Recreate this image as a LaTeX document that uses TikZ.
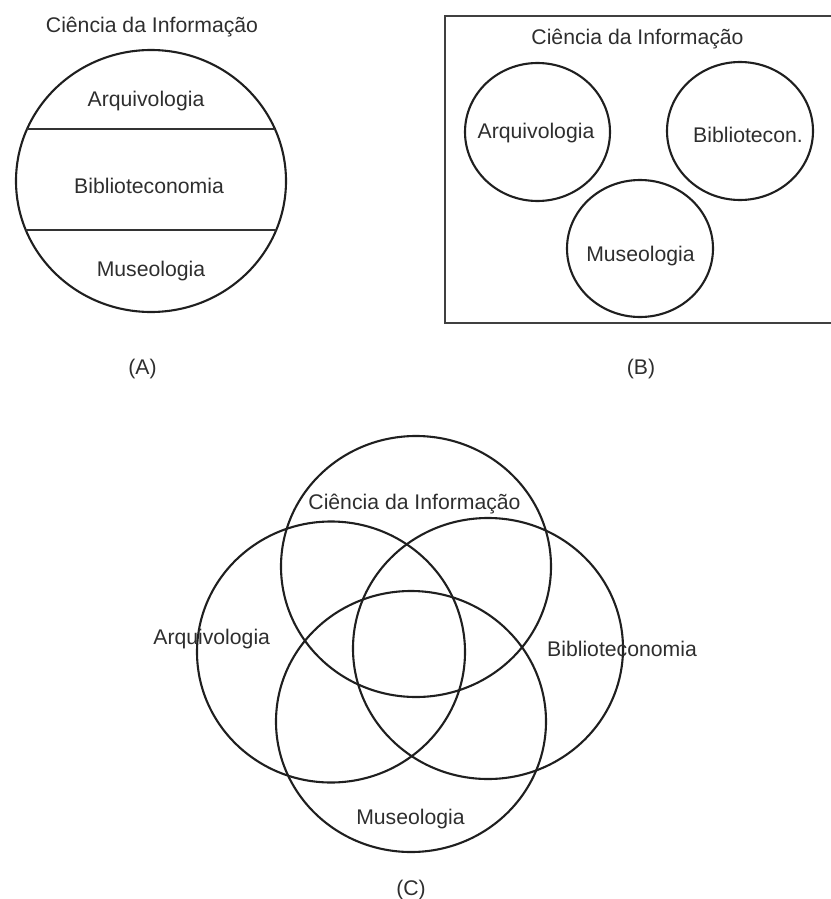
\documentclass[tikz,border=0pt]{standalone}
\usepackage{fontspec}
\setmainfont{Liberation Sans}
\begin{document}
\begin{tikzpicture}[x=1pt,y=-1pt,
  lbl/.style={anchor=base, inner sep=0pt, font=\fontsize{21.2}{25}\selectfont, text=black!82},
  ring/.style={line width=2.1pt, draw=black!88},
  divider/.style={line width=1.5pt, draw=black!80},
  frame/.style={line width=2.8pt, draw=black!75}]
\useasboundingbox (0,0) rectangle (830,899);

% ---------- (A) ----------
\draw[ring] (151,181) ellipse [x radius=135, y radius=131];
\begin{scope}
  \clip (151,181) ellipse [x radius=135, y radius=131];
  \draw[divider] (0,129) -- (300,129);
  \draw[divider] (0,230) -- (300,230);
\end{scope}
\node[lbl] (aci) at (152,33) {Ciência da Informação};
\node[lbl] (aarq) at (146,106) {Arquivologia};
\node[lbl] (abib) at (149,193) {Biblioteconomia};
\node[lbl] (amus) at (151,276) {Museologia};
\node[lbl] (alab) at (142.5,374) {(A)};

% ---------- (B) ----------
\draw[frame] (445,16) rectangle (840,323);
\draw[ring] (537.5,132) ellipse [x radius=72.5, y radius=69];
\draw[ring] (740,131) ellipse [x radius=73, y radius=69];
\draw[ring] (640,248.5) ellipse [x radius=73, y radius=68.5];
\node[lbl] (bci) at (637.5,45) {Ciência da Informação};
\node[lbl] (barq) at (536,138) {Arquivologia};
\node[lbl] (bbib) at (748,142) {Bibliotecon.};
\node[lbl] (bmus) at (640.5,261) {Museologia};
\node[lbl] (blab) at (641,374) {(B)};

% ---------- (C) ----------
\draw[ring] (416,566.5) ellipse [x radius=135, y radius=130.5];
\draw[ring] (331,652) ellipse [x radius=134, y radius=130.5];
\draw[ring] (488,648.5) ellipse [x radius=135, y radius=130.5];
\draw[ring] (411,721.5) ellipse [x radius=135, y radius=130.5];
\node[lbl] (cci) at (414.5,509) {Ciência da Informação};
\node[lbl] (carq) at (211.7,644) {Arquivologia};
\node[lbl] (cbib) at (622,656) {Biblioteconomia};
\node[lbl] (cmus) at (410.5,824) {Museologia};
\node[lbl] (clab) at (411,895) {(C)};
\end{tikzpicture}
\end{document}
